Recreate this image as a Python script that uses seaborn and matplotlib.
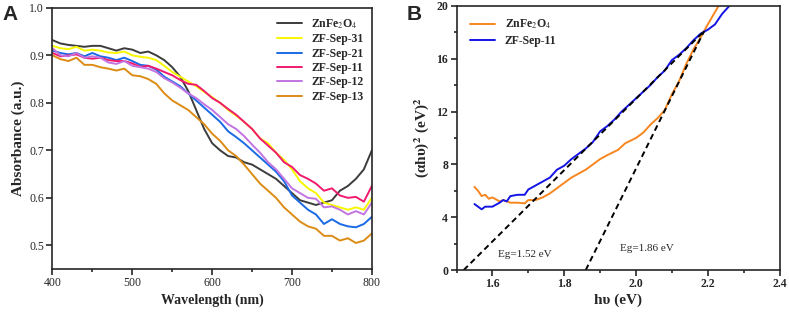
import matplotlib
matplotlib.use("Agg")
import matplotlib.pyplot as plt
import numpy as np
import pandas as pd
import seaborn as sns
from matplotlib.ticker import MultipleLocator

# ---- panel A data (absorbance vs wavelength) ----
wavelength = list(range(400, 801, 10))
abs_znfe2o4 = [0.932, 0.925, 0.922, 0.920, 0.918, 0.920, 0.920, 0.915, 0.910, 0.915, 0.912,
               0.905, 0.908, 0.900, 0.890, 0.875, 0.855, 0.825, 0.785, 0.745, 0.715,
               0.700, 0.688, 0.685, 0.675, 0.670, 0.660, 0.650, 0.640, 0.625, 0.610,
               0.595, 0.590, 0.585, 0.590, 0.595, 0.615, 0.625, 0.640, 0.660, 0.700]
abs_sep31 = [0.920, 0.915, 0.913, 0.918, 0.910, 0.912, 0.910, 0.906, 0.905, 0.908, 0.900,
             0.897, 0.895, 0.890, 0.878, 0.865, 0.855, 0.845, 0.835, 0.823, 0.812,
             0.800, 0.785, 0.773, 0.760, 0.745, 0.725, 0.715, 0.695, 0.680, 0.660,
             0.635, 0.620, 0.610, 0.590, 0.585, 0.580, 0.575, 0.580, 0.575, 0.600]
abs_sep21 = [0.910, 0.905, 0.902, 0.905, 0.898, 0.905, 0.898, 0.895, 0.890, 0.895, 0.888,
             0.880, 0.878, 0.870, 0.855, 0.845, 0.835, 0.820, 0.805, 0.790, 0.775,
             0.760, 0.740, 0.728, 0.715, 0.700, 0.685, 0.670, 0.655, 0.635, 0.605,
             0.590, 0.575, 0.565, 0.545, 0.555, 0.545, 0.540, 0.538, 0.545, 0.560]
abs_sep11 = [0.905, 0.898, 0.900, 0.902, 0.895, 0.893, 0.895, 0.890, 0.888, 0.888, 0.883,
             0.876, 0.878, 0.872, 0.865, 0.858, 0.848, 0.840, 0.838, 0.825, 0.810,
             0.800, 0.787, 0.775, 0.760, 0.745, 0.725, 0.710, 0.695, 0.675, 0.665,
             0.648, 0.640, 0.630, 0.615, 0.620, 0.605, 0.600, 0.602, 0.592, 0.625]
abs_sep12 = [0.915, 0.900, 0.898, 0.905, 0.895, 0.898, 0.895, 0.885, 0.882, 0.888, 0.878,
             0.875, 0.872, 0.865, 0.852, 0.843, 0.832, 0.820, 0.810, 0.797, 0.785,
             0.770, 0.755, 0.745, 0.730, 0.712, 0.695, 0.675, 0.660, 0.640, 0.620,
             0.610, 0.600, 0.598, 0.580, 0.582, 0.575, 0.565, 0.572, 0.565, 0.590]
abs_sep13 = [0.900, 0.892, 0.888, 0.895, 0.880, 0.880, 0.875, 0.872, 0.868, 0.872, 0.858,
             0.856, 0.850, 0.840, 0.820, 0.805, 0.795, 0.785, 0.770, 0.755, 0.735,
             0.720, 0.700, 0.688, 0.670, 0.650, 0.630, 0.615, 0.600, 0.580, 0.565,
             0.550, 0.540, 0.535, 0.520, 0.520, 0.510, 0.515, 0.505, 0.510, 0.525]

labels_a = ["ZnFe$_2$O$_4$", "ZF-Sep-31", "ZF-Sep-21", "ZF-Sep-11", "ZF-Sep-12", "ZF-Sep-13"]
series_a = [abs_znfe2o4, abs_sep31, abs_sep21, abs_sep11, abs_sep12, abs_sep13]
colors_a = ["#3c3c3c", "#f7f700", "#1a6ae6", "#f01a6e", "#c274e0", "#dc8c14"]

# ---- panel B data (Tauc plot) ----
hv_znfe2o4 = [1.55, 1.56, 1.57, 1.58, 1.59, 1.60, 1.62, 1.63, 1.65, 1.67, 1.69, 1.70, 1.72,
              1.74, 1.76, 1.78, 1.80, 1.82, 1.84, 1.86, 1.88, 1.90, 1.92, 1.95, 1.97, 2.00,
              2.02, 2.04, 2.06, 2.08, 2.10, 2.12, 2.14, 2.16, 2.18, 2.20, 2.23]
tauc_znfe2o4 = [6.3, 6.0, 5.6, 5.7, 5.4, 5.5, 5.2, 5.3, 5.1, 5.1, 5.05, 5.3, 5.3,
                5.5, 5.8, 6.2, 6.6, 7.0, 7.3, 7.6, 8.0, 8.4, 8.7, 9.1, 9.6, 10.0,
                10.4, 11.0, 11.5, 12.1, 13.3, 14.3, 15.6, 16.7, 17.6, 18.6, 20.0]
hv_sep11 = [1.55, 1.56, 1.57, 1.58, 1.60, 1.62, 1.63, 1.64, 1.65, 1.67, 1.69, 1.70, 1.72,
            1.74, 1.76, 1.78, 1.80, 1.82, 1.84, 1.86, 1.88, 1.90, 1.92, 1.94, 1.96, 1.98,
            2.00, 2.02, 2.04, 2.06, 2.08, 2.10, 2.12, 2.14, 2.16, 2.18, 2.20, 2.22, 2.24, 2.26]
tauc_sep11 = [5.0, 4.8, 4.6, 4.8, 4.8, 5.1, 5.3, 5.2, 5.6, 5.7, 5.7, 6.1, 6.4,
              6.7, 7.0, 7.6, 7.9, 8.4, 8.8, 9.2, 9.7, 10.5, 10.9, 11.4, 12.0, 12.5,
              13.0, 13.5, 14.0, 14.6, 15.1, 15.9, 16.3, 16.8, 17.4, 17.9, 18.2, 18.6, 19.4, 20.0]

# tangent lines: band gap intercept and end point
eg_values = [1.52, 1.86]
fit_end_x = [2.19, 2.19]
fit_end_y = [18.1, 18.1]

sns.set_style("ticks")
plt.rcParams["font.family"] = ["Liberation Serif", "DejaVu Serif"]
plt.rcParams["mathtext.fontset"] = "stix"

fig = plt.figure(figsize=(7.89, 3.14), dpi=100)
ax1 = fig.add_axes([0.0665, 0.143, 0.4048, 0.832])
ax2 = fig.add_axes([0.5786, 0.140, 0.4094, 0.841])

# panel A
for vals, lab, col in zip(series_a, labels_a, colors_a):
    sns.lineplot(x=wavelength, y=vals, ax=ax1, color=col, label=lab, linewidth=1.4)
ax1.set_xlim(400, 800)
ax1.set_ylim(0.45, 1.0)
ax1.xaxis.set_major_locator(MultipleLocator(100))
ax1.xaxis.set_minor_locator(MultipleLocator(50))
ax1.yaxis.set_major_locator(MultipleLocator(0.1))
ax1.yaxis.set_major_formatter(matplotlib.ticker.FormatStrFormatter("%.1f"))
ax1.set_xlabel("Wavelength (nm)", fontsize=10, fontweight="bold", labelpad=3)
ax1.set_ylabel("Absorbance (a.u.)", fontsize=11, fontweight="bold", labelpad=3)
ax1.tick_params(labelsize=8.5, length=4, width=1.2, pad=2)
ax1.tick_params(which="minor", length=2, width=1.2)
leg = ax1.legend(frameon=False, loc="upper right", fontsize=8.5, handlelength=2.1,
                 labelspacing=0.2, bbox_to_anchor=(1.0, 0.995), borderaxespad=0.3)
for t in leg.get_texts():
    t.set_fontweight("bold")

# panel B
sns.lineplot(x=hv_znfe2o4, y=tauc_znfe2o4, ax=ax2, color="#f7861e", label="ZnFe$_2$O$_4$",
             linewidth=1.4, sort=False)
sns.lineplot(x=hv_sep11, y=tauc_sep11, ax=ax2, color="#1414e6", label="ZF-Sep-11",
             linewidth=1.4, sort=False)
for eg, xe, ye in zip(eg_values, fit_end_x, fit_end_y):
    sns.lineplot(x=[eg, xe], y=[0, ye], ax=ax2, color="black", linestyle=(0, (3, 2)),
                 linewidth=1.4)
ax2.text(1.69, 1.2, "Eg=1.52 eV", fontsize=8, ha="center", va="center")
ax2.text(2.03, 1.6, "Eg=1.86 eV", fontsize=8, ha="center", va="center")
ax2.set_xlim(1.5, 2.4)
ax2.set_ylim(0, 20)
ax2.xaxis.set_major_locator(MultipleLocator(0.2))
ax2.xaxis.set_minor_locator(MultipleLocator(0.1))
ax2.yaxis.set_major_locator(MultipleLocator(4))
ax2.yaxis.set_minor_locator(MultipleLocator(2))
ax2.xaxis.set_major_formatter(matplotlib.ticker.FormatStrFormatter("%.1f"))
ax2.set_xlabel("h\u03c5 (eV)", fontsize=11, fontweight="bold", labelpad=2)
ax2.set_ylabel("(\u03b1h\u03c5)$^\\mathbf{2}$ (eV)$^\\mathbf{2}$", fontsize=11,
               fontweight="bold", labelpad=4)
ax2.tick_params(labelsize=8.5, length=4, width=1.2, pad=2)
ax2.tick_params(which="minor", length=2, width=1.2)
for t in ax2.get_xticklabels() + ax2.get_yticklabels():
    t.set_fontweight("bold")
leg2 = ax2.legend(frameon=False, loc="upper left", fontsize=8.5, handlelength=2.1,
                  labelspacing=0.3, bbox_to_anchor=(0.01, 0.995), borderaxespad=0.5)
for t in leg2.get_texts():
    t.set_fontweight("bold")

for ax in (ax1, ax2):
    for s in ax.spines.values():
        s.set_linewidth(1.2)

fig.text(0.003, 0.985, "A", fontsize=15, fontweight="bold", family="Liberation Sans",
         va="top", ha="left")
fig.text(0.515, 0.985, "B", fontsize=15, fontweight="bold", family="Liberation Sans",
         va="top", ha="left")

fig.savefig("out.png", dpi=100)
